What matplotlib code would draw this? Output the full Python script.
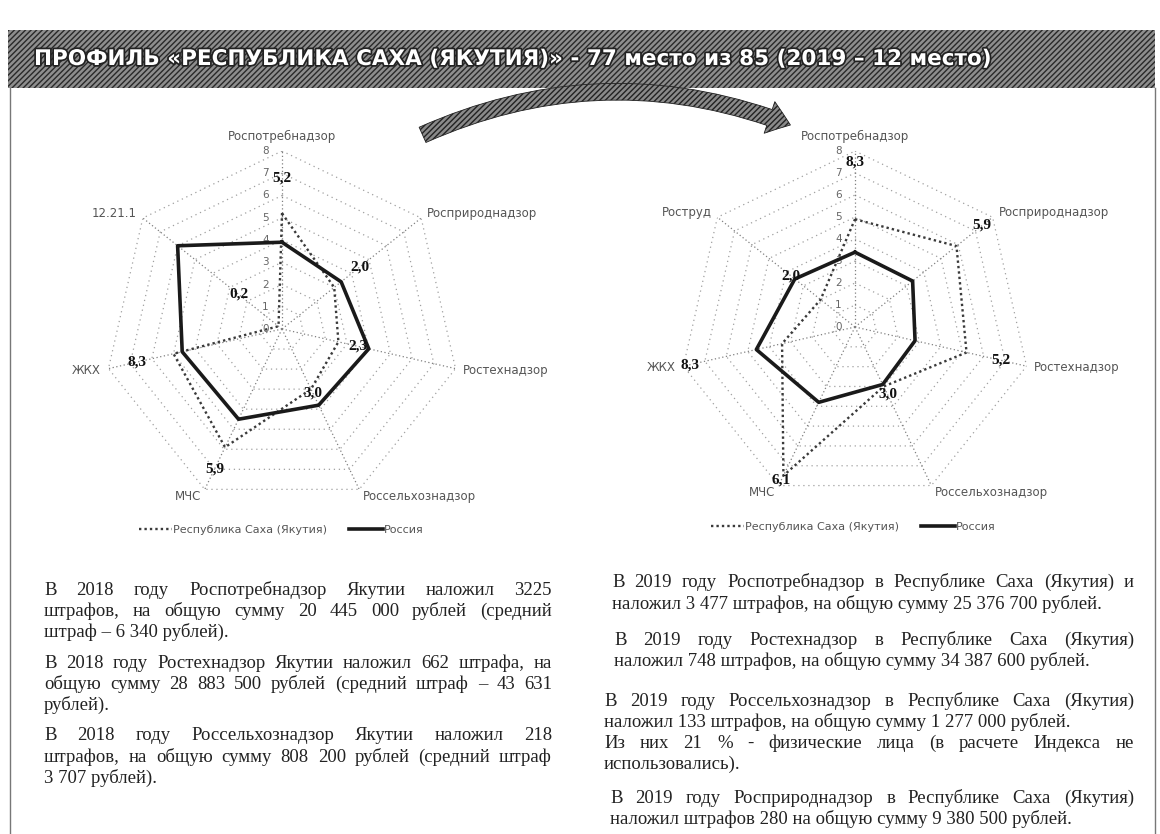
import matplotlib
matplotlib.use('Agg')

import numpy as np
import matplotlib.pyplot as plt
import matplotlib.patheffects as pe
from matplotlib.patches import Rectangle, FancyArrowPatch
from matplotlib.lines import Line2D

######################################################################
## DATA

title = 'ПРОФИЛЬ «РЕСПУБЛИКА САХА (ЯКУТИЯ)» - 77 место из 85 (2019 – 12 место)'

cats_2018 = ['Роспотребнадзор', 'Росприроднадзор', 'Ростехнадзор',
             'Россельхознадзор', 'МЧС', 'ЖКХ', '12.21.1']
region_2018 = [5.2, 3.0, 2.6, 3.0, 5.9, 5.0, 0.2]
russia_2018 = [3.9, 3.4, 4.0, 3.8, 4.5, 4.6, 6.0]
labels_2018 = ['5,2', '2,0', '2,3', '3,0', '5,9', '8,3', '0,2']

cats_2019 = ['Роспотребнадзор', 'Росприроднадзор', 'Ростехнадзор',
             'Россельхознадзор', 'МЧС', 'ЖКХ', 'Роструд']
region_2019 = [4.9, 5.9, 5.2, 3.0, 7.5, 3.4, 2.0]
russia_2019 = [3.4, 3.35, 2.8, 2.9, 3.8, 4.6, 3.5]
labels_2019 = ['8,3', '5,9', '5,2', '3,0', '6,1', '8,3', '2,0']

levels = list(range(0, 9))
series_names = ['Республика Саха (Якутия)', 'Россия']

text_2018 = [
    ('В 2018 году Роспотребнадзор Якутии наложил   3225', True),
    ('штрафов, на общую сумму 20 445 000 рублей (средний', True),
    ('штраф – 6 340 рублей).', False),
    ('В 2018 году Ростехнадзор Якутии наложил 662 штрафа, на', True),
    ('общую сумму 28 883 500 рублей (средний штраф – 43 631', True),
    ('рублей).', False),
    ('В 2018 году Россельхознадзор Якутии наложил 218', True),
    ('штрафов, на общую сумму 808 200 рублей (средний штраф', True),
    ('3 707 рублей).', False),
]

text_2019 = [
    ('В 2019 году Роспотребнадзор в Республике Саха (Якутия) и', True),
    ('наложил 3 477 штрафов, на общую сумму 25 376 700 рублей.', False),
    ('В 2019 году Ростехнадзор в Республике Саха (Якутия)', True),
    ('наложил 748 штрафов, на общую сумму 34 387 600 рублей.', False),
    ('В 2019 году Россельхознадзор в Республике Саха (Якутия)', True),
    ('наложил 133 штрафов, на общую сумму 1 277 000 рублей.', False),
    ('Из них 21 % - физические лица (в расчете Индекса не', True),
    ('использовались).', False),
    ('В 2019 году Росприроднадзор в Республике Саха (Якутия)', True),
    ('наложил штрафов 280 на общую сумму 9 380 500 рублей.', False),
]

######################################################################
## Layout (pixels)

W, H = 1160, 834
label_r_2018 = [6.8, 4.5, 3.5, 3.2, 7.0, 6.7, 2.5]
label_r_2019 = [7.5, 7.4, 6.8, 3.4, 7.7, 7.7, 3.7]
y_2018 = [590, 611, 632, 663, 684, 705, 735, 757, 778]
x_2018 = [44] * 9
y_2019 = [582, 604, 640, 661, 701, 722, 743, 764, 798, 819]
x_2019 = [612, 612, 614, 614, 604, 604, 604, 604, 610, 610]

fig = plt.figure(figsize=(W / 100, H / 100), dpi=100)
fig.patch.set_facecolor('white')

def px(x, y):
    return x / W, 1 - y / H

######################################################################
## Title band

x0, y0 = px(8, 88)
band = Rectangle((x0, y0), (1155 - 8) / W, 58 / H, transform=fig.transFigure,
                 facecolor='#8e8e8e', edgecolor='#2a2a2a', hatch='//////',
                 linewidth=0, zorder=1)
fig.patches.append(band)
fig.text(*px(34, 59), title, color='white', fontsize=15.5, fontweight='bold',
         ha='left', va='center', zorder=3,
         path_effects=[pe.withStroke(linewidth=2.5, foreground='#222222')])

# frame sides
for xx in (10, 1155):
    fig.add_artist(Line2D([xx / W, xx / W], [0, 1 - 88 / H],
                          transform=fig.transFigure, color='#777777', lw=1))

# curved arrow
arrow = FancyArrowPatch(px(420, 136), px(793, 126), transform=fig.transFigure,
                        connectionstyle='arc3,rad=-0.21',
                        arrowstyle='simple,head_length=0.8,head_width=1.2,tail_width=0.6',
                        mutation_scale=20, facecolor='#8a8a8a', edgecolor='#222222',
                        hatch='//////', linewidth=0.6)
fig.patches.append(arrow)

######################################################################
## Radars

def radar(rect, cats, region, russia, labels, label_r):
    ax = fig.add_axes(rect, projection='polar')
    ax.set_theta_zero_location('N')
    ax.set_theta_direction(-1)
    ax.set_ylim(0, 8)
    ax.set_xticks([])
    ax.set_yticks([])
    ax.grid(False)
    ax.spines['polar'].set_visible(False)
    ax.patch.set_alpha(0)

    n = len(cats)
    ang = np.arange(n) * 2 * np.pi / n
    ang_c = np.append(ang, ang[0])

    for lv in levels[1:]:
        ax.plot(ang_c, [lv] * (n + 1), color='#a0a0a0', lw=0.9,
                ls=(0, (1, 3)), zorder=1)
    for a in ang:
        ax.plot([a, a], [0, levels[-1]], color='#808080', lw=0.9,
                ls=(0, (1, 2)), zorder=1)

    l1, = ax.plot(ang_c, np.append(region, region[0]), color='#3a3a3a',
                  lw=1.7, ls=(0, (1, 1.3)), zorder=3)
    l2, = ax.plot(ang_c, np.append(russia, russia[0]), color='#1a1a1a',
                  lw=2.6, zorder=4)

    for lv in levels:
        ax.annotate(str(lv), (0, lv), xytext=(-12, 0), textcoords='offset points',
                    ha='center', va='center', fontsize=7.5, color='#666666')

    for a, c in zip(ang, cats):
        s = np.sin(a)
        if abs(s) < 0.05:
            ax.text(a, 8.35, c, ha='center', va='bottom', fontsize=8.5,
                    color='#555555', clip_on=False)
        else:
            ax.text(a, 8.35, c, ha='left' if s > 0 else 'right', va='center',
                    fontsize=8.5, color='#555555', clip_on=False)

    for a, t, r in zip(ang, labels, label_r):
        ax.text(a, r, t, ha='center', va='center', fontsize=11,
                family='Liberation Serif', fontweight='bold', color='#111111',
                zorder=5)
    return l1, l2

h_2018 = radar([104 / W, 1 - 507 / H, 356 / W, 356 / H],
               cats_2018, region_2018, russia_2018, labels_2018, label_r_2018)
h_2019 = radar([679 / W, 1 - 503 / H, 352 / W, 352 / H],
               cats_2019, region_2019, russia_2019, labels_2019, label_r_2019)

for h, (lx, ly) in ((h_2018, (281, 530)), (h_2019, (853, 527))):
    fig.legend(h, series_names, loc='center', bbox_to_anchor=px(lx, ly),
               ncol=2, frameon=False, fontsize=8, handlelength=3,
               handletextpad=0.1, columnspacing=2.0, labelcolor='#555555')

######################################################################
## Paragraphs (justified by hand)

renderer = fig.canvas.get_renderer()

def put_line(xl, xr, y, s, justify):
    kw = dict(fontsize=13.5, family='Liberation Serif', color='#222222',
              va='baseline', ha='left')
    yb = y + 5
    if not justify:
        fig.text(*px(xl, yb), s, **kw)
        return
    words = s.split()
    txt = [fig.text(0, 0, w, **kw) for w in words]
    wid = [t.get_window_extent(renderer).width for t in txt]
    gap = (xr - xl - sum(wid)) / (len(words) - 1)
    gap = max(gap, 3.5)
    x = xl
    for t, w in zip(txt, wid):
        t.set_position(px(x, yb))
        x += w + gap

for (s, j), x, y in zip(text_2018, x_2018, y_2018):
    put_line(x, 552, y, s, j)
for (s, j), x, y in zip(text_2019, x_2019, y_2019):
    put_line(x, 1134, y, s, j)

fig.savefig('out.png', dpi=100)
